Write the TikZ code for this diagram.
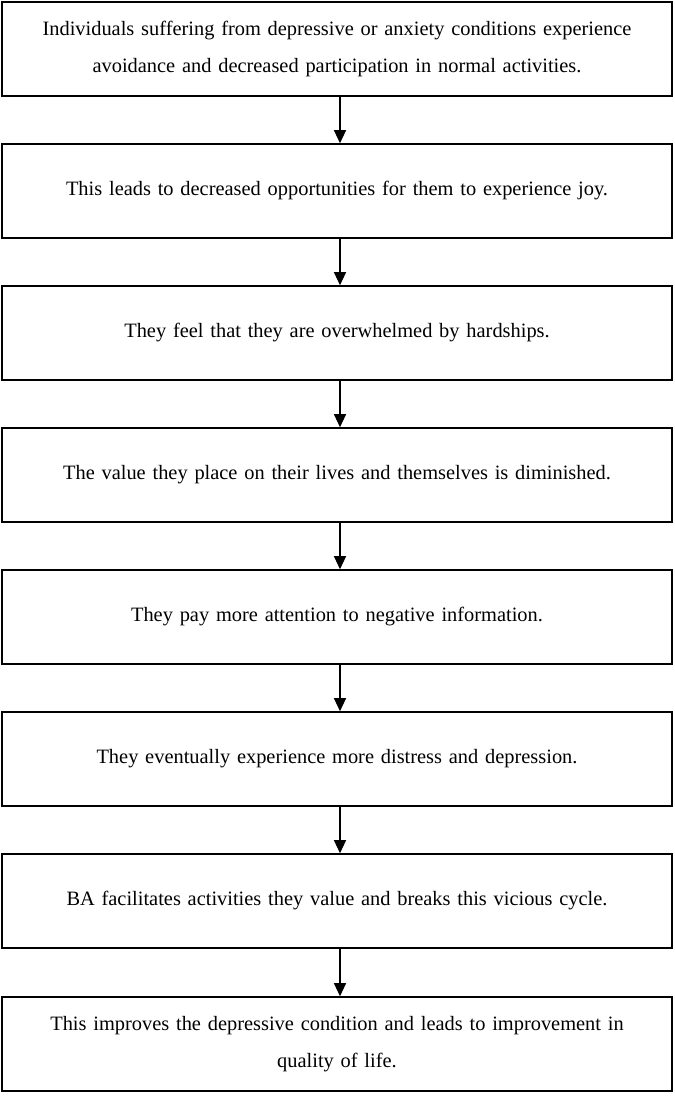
\documentclass[tikz,border=0pt]{standalone}
\usepackage{fontspec}
\setmainfont{Liberation Serif}
\usetikzlibrary{arrows.meta}
\begin{document}
\begin{tikzpicture}[x=1pt,y=-1pt,
  stepbox/.style={draw, line width=1.6pt, minimum width=670pt, minimum height=94pt,
    text width=650pt, align=center, inner sep=0pt, font=\fontsize{20.4}{37.5}\selectfont},
  flow/.style={line width=1.2pt, -{Triangle[length=13pt,width=12pt]}}]
\useasboundingbox (0,0) rectangle (675,1096);
\node[stepbox] (b1) at (337,49) {Individuals suffering from depressive or anxiety conditions experience\\avoidance and decreased participation in normal activities.};
\node[stepbox] (b2) at (337,191) {This leads to decreased opportunities for them to experience joy.};
\node[stepbox] (b3) at (337,333) {They feel that they are overwhelmed by hardships.};
\node[stepbox] (b4) at (337,475) {The value they place on their lives and themselves is diminished.};
\node[stepbox] (b5) at (337,617) {They pay more attention to negative information.};
\node[stepbox] (b6) at (337,759) {They eventually experience more distress and depression.};
\node[stepbox] (b7) at (337,901) {BA facilitates activities they value and breaks this vicious cycle.};
\node[stepbox] (b8) at (337,1044) {This improves the depressive condition and leads to improvement in\\quality of life.};
\foreach \a/\b in {b1/b2,b2/b3,b3/b4,b4/b5,b5/b6,b6/b7,b7/b8}
  \draw[flow] ([xshift=3pt]\a.south) -- ([xshift=3pt]\b.north);
\end{tikzpicture}
\end{document}
